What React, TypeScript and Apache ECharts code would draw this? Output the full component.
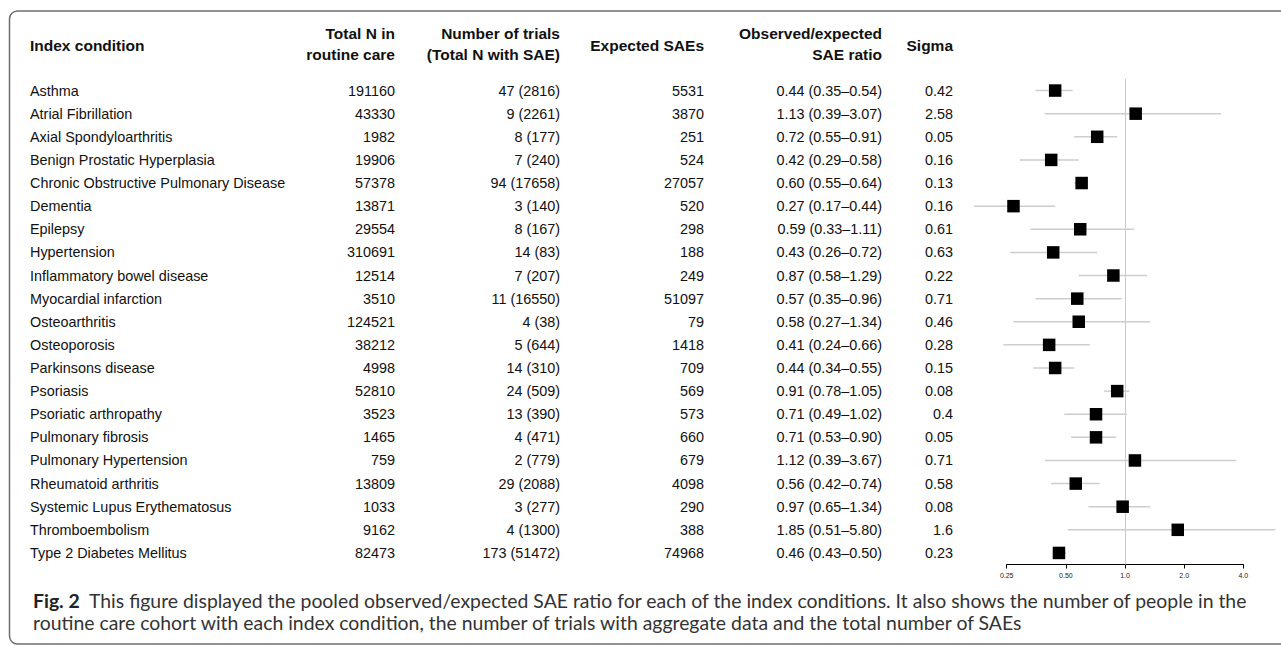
import React, { useEffect, useRef } from "react";
import * as echarts from "echarts";

const conditions = [
  "Asthma",
  "Atrial Fibrillation",
  "Axial Spondyloarthritis",
  "Benign Prostatic Hyperplasia",
  "Chronic Obstructive Pulmonary Disease",
  "Dementia",
  "Epilepsy",
  "Hypertension",
  "Inflammatory bowel disease",
  "Myocardial infarction",
  "Osteoarthritis",
  "Osteoporosis",
  "Parkinsons disease",
  "Psoriasis",
  "Psoriatic arthropathy",
  "Pulmonary fibrosis",
  "Pulmonary Hypertension",
  "Rheumatoid arthritis",
  "Systemic Lupus Erythematosus",
  "Thromboembolism",
  "Type 2 Diabetes Mellitus",
];
const totalN = [191160, 43330, 1982, 19906, 57378, 13871, 29554, 310691, 12514, 3510, 124521, 38212, 4998, 52810, 3523, 1465, 759, 13809, 1033, 9162, 82473];
const trialCount = [47, 9, 8, 7, 94, 3, 8, 14, 7, 11, 4, 5, 14, 24, 13, 4, 2, 29, 3, 4, 173];
const saeN = [2816, 2261, 177, 240, 17658, 140, 167, 83, 207, 16550, 38, 644, 310, 509, 390, 471, 779, 2088, 277, 1300, 51472];
const expectedSAEs = [5531, 3870, 251, 524, 27057, 520, 298, 188, 249, 51097, 79, 1418, 709, 569, 573, 660, 679, 4098, 290, 388, 74968];
const ratio = [0.44, 1.13, 0.72, 0.42, 0.6, 0.27, 0.59, 0.43, 0.87, 0.57, 0.58, 0.41, 0.44, 0.91, 0.71, 0.71, 1.12, 0.56, 0.97, 1.85, 0.46];
const ciLower = [0.35, 0.39, 0.55, 0.29, 0.55, 0.17, 0.33, 0.26, 0.58, 0.35, 0.27, 0.24, 0.34, 0.78, 0.49, 0.53, 0.39, 0.42, 0.65, 0.51, 0.43];
const ciUpper = [0.54, 3.07, 0.91, 0.58, 0.64, 0.44, 1.11, 0.72, 1.29, 0.96, 1.34, 0.66, 0.55, 1.05, 1.02, 0.9, 3.67, 0.74, 1.34, 5.8, 0.5];
const sigma = [0.42, 2.58, 0.05, 0.16, 0.13, 0.16, 0.61, 0.63, 0.22, 0.71, 0.46, 0.28, 0.15, 0.08, 0.4, 0.05, 0.71, 0.58, 0.08, 1.6, 0.23];
const tickValues = [0.25, 0.5, 1, 2, 4];
const tickLabels = ["0.25", "0.50", "1.0", "2.0", "4.0"];
const referenceValue = 1;

const captionLine1Bold = "Fig. 2";
const captionLine1 =
  "This figure displayed the pooled observed/expected SAE ratio for each of the index conditions. It also shows the number of people in the";
const captionLine2 =
  "routine care cohort with each index condition, the number of trials with aggregate data and the total number of SAEs";

const FONT = "'Liberation Sans', Arial, Helvetica, sans-serif";
const CAPTION_FONT = "Lato, 'Open Sans', sans-serif";

export default function App() {
  const ref = useRef<HTMLDivElement>(null);

  useEffect(() => {
    if (!ref.current) return;
    const chart = echarts.init(ref.current, undefined, { renderer: "svg" });

    const fmt2 = (v: number) => v.toFixed(2);
    const totalStr = totalN.map((v) => String(v));
    const trialsStr = trialCount.map((t, i) => `${t} (${saeN[i]})`);
    const expStr = expectedSAEs.map((v) => String(v));
    const ratioStr = ratio.map((r, i) => `${fmt2(r)} (${fmt2(ciLower[i])}–${fmt2(ciUpper[i])})`);
    const sigmaStr = sigma.map((s) => String(s));

    const plotLeft = 960;
    const gridTop = 79;
    const gridHeight = 485.5;

    const colAxis = (data: string[], anchorX: number, align: string) => ({
      type: "category",
      gridIndex: 0,
      data,
      inverse: true,
      position: "left",
      offset: plotLeft - anchorX,
      axisLine: { show: false },
      axisTick: { show: false },
      splitLine: { show: false },
      axisLabel: {
        show: true,
        interval: 0,
        margin: 0,
        align,
        color: "#111",
        fontSize: 14.4,
        fontFamily: FONT,
      },
    });

    const headers = [
      { lines: ["Index condition"], x: 30, align: "left" },
      { lines: ["Total N in", "routine care"], x: 395, align: "right" },
      { lines: ["Number of trials", "(Total N with SAE)"], x: 560, align: "right" },
      { lines: ["Expected SAEs"], x: 704, align: "right" },
      { lines: ["Observed/expected", "SAE ratio"], x: 882, align: "right" },
      { lines: ["Sigma"], x: 953, align: "right" },
    ];
    const headerEls: any[] = [];
    headers.forEach((h) => {
      const ys = h.lines.length === 2 ? [33, 54] : [45.5];
      h.lines.forEach((t, k) => {
        headerEls.push({
          type: "text",
          x: h.x,
          y: ys[k],
          style: {
            text: t,
            align: h.align,
            verticalAlign: "middle",
            fontSize: 15.5,
            fontWeight: "bold",
            fontFamily: FONT,
            fill: "#111",
          },
        });
      });
    });

    const nearestLabel = (v: number) => {
      let best = 0;
      let bd = Infinity;
      tickValues.forEach((t, i) => {
        const d = Math.abs(Math.log2(v) - Math.log2(t));
        if (d < bd) {
          bd = d;
          best = i;
        }
      });
      return tickLabels[best];
    };

    const option: any = {
      animation: false,
      backgroundColor: "#fff",
      grid: [
        { left: plotLeft, right: 0, top: gridTop, height: gridHeight, containLabel: false },
        { left: 1006.7, right: 37.7, top: gridTop, height: gridHeight, containLabel: false },
      ],
      xAxis: [
        {
          type: "log",
          logBase: 2,
          gridIndex: 0,
          min: 0.1443,
          max: 6.2,
          show: false,
        },
        {
          type: "log",
          logBase: 2,
          gridIndex: 1,
          min: 0.25,
          max: 4,
          position: "bottom",
          axisLine: { show: true, lineStyle: { color: "#000", width: 1 } },
          axisTick: { show: true, length: 4, lineStyle: { color: "#000", width: 1 } },
          minorTick: { show: false },
          splitLine: { show: false },
          axisLabel: {
            fontSize: 7,
            margin: 7,
            color: "#222",
            fontFamily: FONT,
            formatter: (v: number) => nearestLabel(v),
          },
        },
      ],
      yAxis: [
        colAxis(conditions, 30, "left"),
        colAxis(totalStr, 395, "right"),
        colAxis(trialsStr, 560, "right"),
        colAxis(expStr, 704, "right"),
        colAxis(ratioStr, 882, "right"),
        colAxis(sigmaStr, 953, "right"),
        { type: "value", gridIndex: 1, show: false, min: 0, max: 1 },
      ],
      series: [
        {
          type: "custom",
          xAxisIndex: 0,
          yAxisIndex: 0,
          data: conditions.map((c, i) => [ratio[i], i, ciLower[i], ciUpper[i]]),
          encode: { x: [0, 2, 3], y: 1 },
          renderItem: (params: any, api: any) => {
            const idx = api.value(1);
            const p = api.coord([api.value(0), idx]);
            const lo = api.coord([api.value(2), idx]);
            const hi = api.coord([api.value(3), idx]);
            const s = 12.5;
            return {
              type: "group",
              children: [
                {
                  type: "line",
                  shape: { x1: lo[0], y1: lo[1], x2: hi[0], y2: hi[1] },
                  style: { stroke: "#cdcdcd", lineWidth: 1.5 },
                },
                {
                  type: "rect",
                  shape: { x: p[0] - s / 2, y: p[1] - s / 2, width: s, height: s },
                  style: { fill: "#000" },
                },
              ],
            };
          },
          markLine: {
            silent: true,
            symbol: ["none", "none"],
            label: { show: false },
            lineStyle: { color: "#c8c8c8", width: 1, type: "solid" },
            data: [{ xAxis: referenceValue }],
            z: 1,
          },
          z: 2,
        },
        { type: "scatter", xAxisIndex: 1, yAxisIndex: 6, data: [] },
      ],
      graphic: [
        {
          type: "rect",
          z: -10,
          shape: { x: 9.5, y: 11, width: 1300, height: 633, r: 8 },
          style: { fill: "none", stroke: "#6e6e6e", lineWidth: 1.5 },
        },
        ...headerEls,
        {
          type: "text",
          x: 33,
          y: 600,
          style: {
            text: `{b|${captionLine1Bold}}  ${captionLine1}`,
            verticalAlign: "middle",
            fontSize: 19.4,
            fontFamily: CAPTION_FONT,
            fill: "#333",
            rich: {
              b: { fontSize: 19.4, fontWeight: "bold", fontFamily: CAPTION_FONT, fill: "#222" },
            },
          },
        },
        {
          type: "text",
          x: 33,
          y: 622,
          style: {
            text: captionLine2,
            verticalAlign: "middle",
            fontSize: 19.4,
            fontFamily: CAPTION_FONT,
            fill: "#333",
          },
        },
      ],
    };

    chart.setOption(option);
    return () => chart.dispose();
  }, []);

  return (
    <div
      ref={ref}
      style={{ position: "fixed", left: 0, top: 0, width: 1281, height: 645, background: "#fff" }}
    />
  );
}
